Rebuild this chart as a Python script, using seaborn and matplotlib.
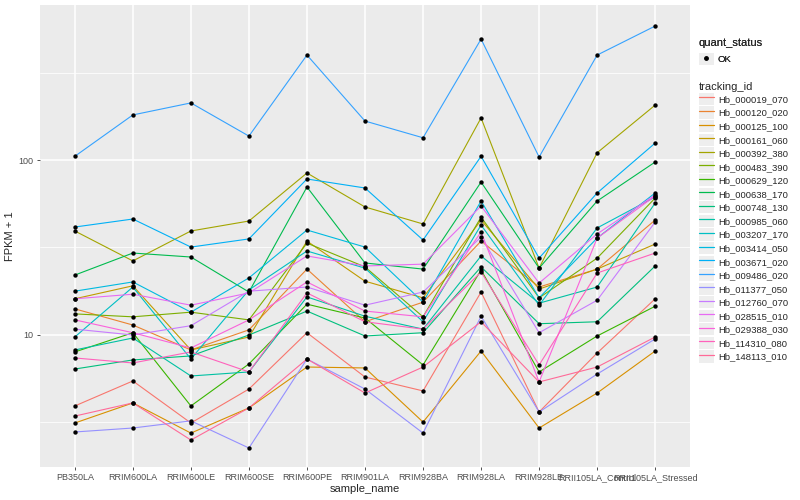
import pandas as pd
import matplotlib
matplotlib.use("Agg")
import matplotlib.pyplot as plt
from matplotlib.lines import Line2D
from matplotlib.patches import Rectangle
from matplotlib.legend_handler import HandlerTuple
import seaborn as sns

samples = ["PB350LA", "RRIM600LA", "RRIM600LE", "RRIM600SE", "RRIM600PE",
           "RRIM901LA", "RRIM928BA", "RRIM928LA", "RRIM928LE",
           "RRII105LA_Control", "RRII105LA_Stressed"]

tracking_ids = ["Hb_000019_070", "Hb_000120_020", "Hb_000125_100", "Hb_000161_060",
                "Hb_000392_380", "Hb_000483_390", "Hb_000629_120", "Hb_000638_170",
                "Hb_000748_130", "Hb_000985_060", "Hb_003207_170", "Hb_003414_050",
                "Hb_003671_020", "Hb_009486_020", "Hb_011377_050", "Hb_012760_070",
                "Hb_028515_010", "Hb_029388_030", "Hb_114310_080", "Hb_148113_010"]

# FPKM + 1, one list per gene, in sample order
hb_000019_070 = [3.93, 5.46, 3.14, 4.91, 10.3, 5.75, 4.79, 17.6, 3.63, 7.89, 16.1]
hb_000120_020 = [14.1, 11.4, 8.21, 10.7, 23.8, 11.9, 15.4, 34.4, 18.8, 23.8, 45.4]
hb_000125_100 = [3.14, 4.09, 2.75, 3.83, 6.56, 6.48, 3.18, 8.10, 2.94, 4.66, 8.10]
hb_000161_060 = [16.1, 19.1, 8.21, 9.74, 34.4, 20.3, 16.3, 45.4, 18.3, 23.8, 33.1]
hb_000392_380 = [39.3, 26.5, 39.3, 44.8, 84.3, 53.9, 43.1, 174, 24.1, 110, 206]
hb_000483_390 = [13.2, 12.7, 13.5, 12.2, 33.5, 24.5, 12.7, 47.2, 16.3, 27.5, 60.6]
hb_000629_120 = [8.0, 10.3, 3.93, 6.83, 15.0, 12.5, 6.74, 23.5, 6.15, 9.87, 14.6]
hb_000638_170 = [22.0, 29.4, 27.9, 17.6, 70.1, 25.8, 23.8, 74.8, 24.1, 58.3, 97.4]
hb_000748_130 = [6.39, 7.20, 7.59, 10.0, 13.7, 9.87, 10.3, 24.5, 11.6, 11.9, 24.8]
hb_000985_060 = [8.21, 9.61, 5.83, 6.15, 16.5, 12.8, 10.8, 28.3, 15.2, 18.8, 56.8]
hb_003207_170 = [9.74, 18.8, 7.29, 18.1, 30.2, 24.1, 11.9, 42.5, 14.8, 40.9, 61.5]
hb_003414_050 = [17.8, 20.1, 13.5, 21.2, 39.8, 31.8, 15.4, 58.3, 16.3, 35.8, 64.8]
hb_003671_020 = [41.4, 46.0, 31.8, 35.4, 77.9, 69.2, 34.9, 105, 27.5, 64.8, 125]
hb_009486_020 = [105, 181, 212, 137, 398, 167, 134, 491, 104, 398, 583]
hb_011377_050 = [2.79, 2.94, 3.23, 2.26, 7.29, 4.91, 2.75, 12.8, 3.63, 5.98, 9.49]
hb_012760_070 = [10.8, 10.0, 11.3, 17.8, 18.8, 14.8, 17.6, 36.3, 10.3, 15.8, 44.2]
hb_028515_010 = [16.1, 17.1, 14.8, 17.4, 28.3, 24.8, 25.4, 54.6, 19.8, 37.8, 63.1]
hb_029388_030 = [12.2, 10.3, 8.43, 12.2, 20.1, 13.7, 12.7, 38.8, 5.39, 35.8, 62.3]
hb_114310_080 = [7.39, 6.92, 8.0, 6.15, 17.4, 11.9, 10.8, 22.9, 6.74, 22.6, 29.4]
hb_148113_010 = [3.44, 4.09, 2.51, 3.83, 7.29, 4.66, 6.56, 11.9, 5.39, 6.56, 9.74]

series = [hb_000019_070, hb_000120_020, hb_000125_100, hb_000161_060, hb_000392_380,
          hb_000483_390, hb_000629_120, hb_000638_170, hb_000748_130, hb_000985_060,
          hb_003207_170, hb_003414_050, hb_003671_020, hb_009486_020, hb_011377_050,
          hb_012760_070, hb_028515_010, hb_029388_030, hb_114310_080, hb_148113_010]

# ggplot2 default hue palette for 20 levels
colors = ["#F8766D", "#EA8331", "#D89000", "#C09B00", "#A3A500", "#7CAE00", "#39B600",
          "#00BB4E", "#00BF7D", "#00C1A3", "#00BFC4", "#00BAE0", "#00B0F6", "#35A2FF",
          "#9590FF", "#C77CFF", "#E76BF3", "#FA62DB", "#FF62BC", "#FF6A98"]

rows = []
for tid, vals in zip(tracking_ids, series):
    for s, v in zip(samples, vals):
        rows.append({"tracking_id": tid, "sample_name": s, "fpkm": v, "quant_status": "OK"})
df = pd.DataFrame(rows)

sns.set_style("darkgrid", {"axes.facecolor": "#EBEBEB", "grid.color": "white"})
plt.rcParams["font.family"] = ["Liberation Sans", "DejaVu Sans"]

fig = plt.figure(figsize=(8, 5), dpi=100)
ax = fig.add_axes([40 / 800, 33 / 500, 650 / 800, 462 / 500])

sns.lineplot(data=df, x="sample_name", y="fpkm", hue="tracking_id",
             palette=colors, linewidth=0.8, legend=False, sort=False, ax=ax)
sns.scatterplot(data=df, x="sample_name", y="fpkm", color="black", s=10,
                linewidth=0, legend=False, ax=ax, zorder=5)

ax.set_yscale("log")
ax.set_ylim(1.76, 769)
ax.set_xlim(-0.6, len(samples) - 0.4)
ax.set_yticks([10, 100])
ax.set_yticklabels(["10", "100"])
ax.set_yticks([10 ** 0.5, 10 ** 1.5, 10 ** 2.5], minor=True)
ax.yaxis.set_minor_formatter(plt.NullFormatter())
ax.grid(which="major", color="white", linewidth=1.1)
ax.grid(which="minor", axis="y", color="white", linewidth=0.55)
for sp in ax.spines.values():
    sp.set_visible(False)
ax.tick_params(axis="both", which="major", length=2.5, width=0.6, color="#333333",
               labelsize=6.5, labelcolor="#4D4D4D", pad=2, bottom=True, left=True)
ax.tick_params(axis="y", which="minor", length=0)
ax.set_xlabel("sample_name", fontsize=8, labelpad=1)
ax.set_ylabel("FPKM + 1", fontsize=8, labelpad=3)

# legends in ggplot style, grey key squares behind each glyph
key_bg = dict(facecolor="#EEEEEE", edgecolor="none")
dot = (Rectangle((0, 0), 1, 1, **key_bg),
       Line2D([], [], linestyle="none", marker="o", markersize=2.5, color="black"))
leg1 = fig.legend([dot], ["OK"], title="quant_status", loc="upper left",
                  bbox_to_anchor=(690 / 800, 1 - 30 / 500), frameon=False,
                  fontsize=6.8, title_fontsize=8, handlelength=1.6, handleheight=1.6,
                  handletextpad=0.45, alignment="left",
                  handler_map={tuple: HandlerTuple(ndivide=1, pad=0)})
handles = [(Rectangle((0, 0), 1, 1, **key_bg), Line2D([], [], color=c, linewidth=0.9))
           for c in colors]
leg2 = fig.legend(handles, tracking_ids, title="tracking_id", loc="upper left",
                  bbox_to_anchor=(690 / 800, 1 - 73 / 500), frameon=False,
                  fontsize=6.8, title_fontsize=8, handlelength=1.6, handleheight=1.6,
                  handletextpad=0.45, labelspacing=0.15, alignment="left",
                  handler_map={tuple: HandlerTuple(ndivide=1, pad=0)})
fig.add_artist(leg1)

fig.savefig("out.png", dpi=100)
